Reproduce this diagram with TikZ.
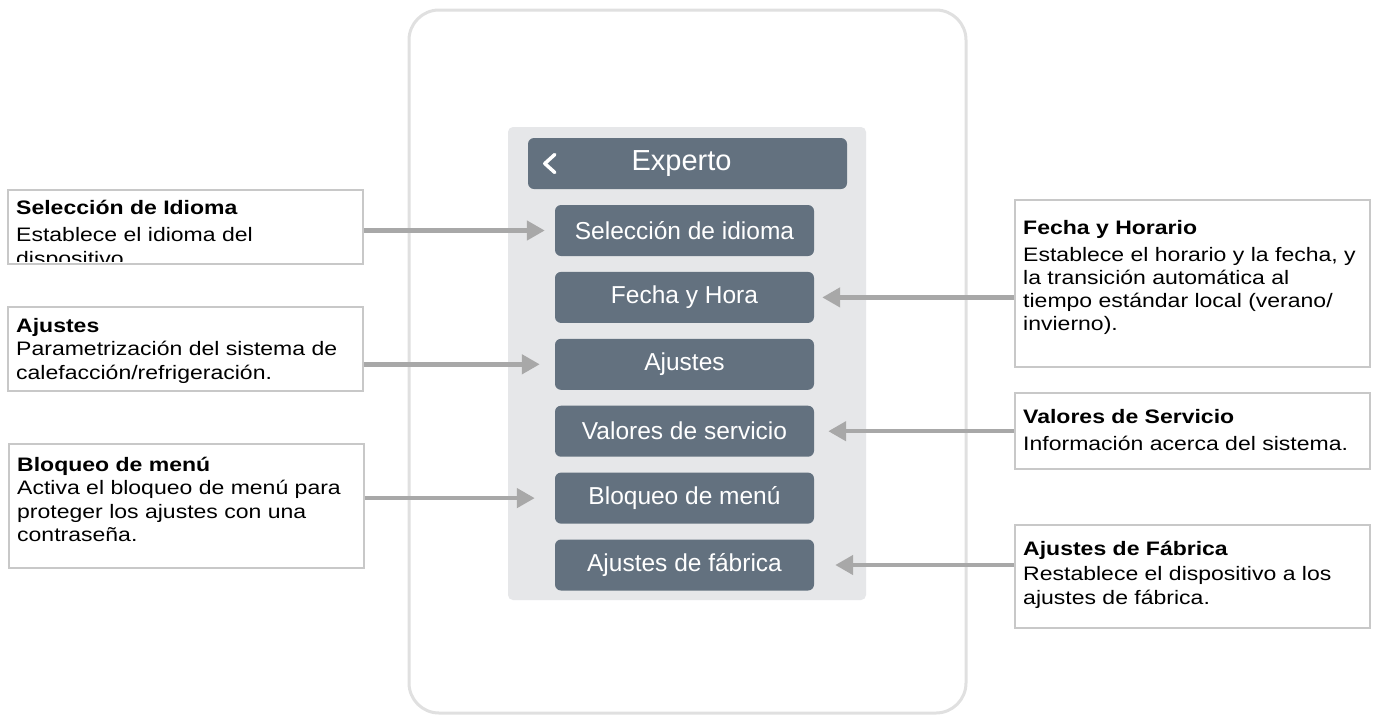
\documentclass[tikz,border=0pt]{standalone}
\usepackage{fontspec}
\setmainfont{Liberation Sans}
\newfontfamily\stretchfont[FakeStretch=1.18]{Liberation Sans}
\definecolor{slate}{RGB}{99,113,127}
\definecolor{panelgray}{RGB}{230,231,233}
\definecolor{arrowgray}{RGB}{168,168,168}
\definecolor{framegray}{RGB}{200,200,200}
\definecolor{shadowgray}{RGB}{224,224,224}
\usetikzlibrary{arrows.meta, positioning}
\tikzset{
  menubtn/.style={rectangle, rounded corners=6pt, fill=slate, text=white, minimum width=259pt, minimum height=51pt, inner sep=0pt, font=\fontsize{24.5}{27}\selectfont},
  infobox/.style={rectangle, draw=framegray, line width=1.5pt, fill=white, minimum width=355pt, minimum height=#1, inner sep=0pt, anchor=north west},
  infotext/.style={anchor=north west, align=left, inner sep=0pt, font=\stretchfont\fontsize{19.5}{23.5}\selectfont},
  pointer/.style={draw=arrowgray, line width=4.5pt, -{Triangle[length=18pt, width=19pt]}},
}

\begin{document}
\begin{tikzpicture}[x=1pt, y=-1pt, node distance=15.5pt]
\useasboundingbox (0,0) rectangle (1381,716);

% device and menu panel
\draw[shadowgray, line width=3pt, rounded corners=30pt, fill=white] (409,10) rectangle (966,713);
\fill[panelgray, rounded corners=5pt] (508,127) rectangle (866,600);

\node[menubtn, minimum width=319pt, font=\fontsize{29}{31}\selectfont] (experto) at (687.5,163.5) {Experto\kern12pt};
\draw[white, line width=3.5pt, line cap=round, line join=round] ([xshift=27pt, yshift=9pt]experto.west) -- ([xshift=17pt]experto.west) -- ([xshift=27pt, yshift=-9pt]experto.west);

\node[menubtn] (idiomabtn) at (684.5,230.5) {Selección de idioma};
\node[menubtn, below=of idiomabtn] (fechabtn) {Fecha y Hora};
\node[menubtn, below=of fechabtn] (ajustesbtn) {Ajustes};
\node[menubtn, below=of ajustesbtn] (serviciobtn) {Valores de servicio};
\node[menubtn, below=of serviciobtn] (bloqueobtn) {Bloqueo de menú};
\node[menubtn, below=of bloqueobtn] (fabricabtn) {Ajustes de fábrica};

% left boxes
\node[infobox=74pt] (idiomabox) at (7,189) {};
\begin{scope}
  \clip ([xshift=1pt, yshift=-1pt]idiomabox.north west) rectangle ([xshift=-1pt, yshift=3pt]idiomabox.south east);
  \node[infotext] (idiomatxt) at ([xshift=9pt, yshift=-8.5pt]idiomabox.north west) {\strut\textbf{Selección de Idioma}\\[4pt]Establece el idioma del\\dispositivo};
\end{scope}

\node[infobox=84pt] (ajustesbox) at (7,306) {};
\node[infotext] (ajustestxt) at ([xshift=9pt, yshift=-9.5pt]ajustesbox.north west) {\strut\textbf{Ajustes}\\Parametrización del sistema de\\calefacción/refrigeración.};

\node[infobox=124pt] (bloqueobox) at (8,443) {};
\node[infotext] (bloqueotxt) at ([xshift=9pt, yshift=-11.5pt]bloqueobox.north west) {\strut\textbf{Bloqueo de menú}\\Activa el bloqueo de menú para\\proteger los ajustes con una\\contraseña.};

% right boxes
\node[infobox=167pt] (fechabox) at (1014,199) {};
\node[infotext, font=\stretchfont\fontsize{19.5}{23}\selectfont] (fechatxt) at ([xshift=9pt, yshift=-19.5pt]fechabox.north west) {\strut\textbf{Fecha y Horario}\\[4pt]Establece el horario y la fecha, y\\la transición automática al\\tiempo estándar local (verano/\\invierno).};

\node[infobox=76pt] (serviciobox) at (1014,392) {};
\node[infotext] (serviciotxt) at ([xshift=9pt, yshift=-14.5pt]serviciobox.north west) {\strut\textbf{Valores de Servicio}\\[4pt]Información acerca del sistema.};

\node[infobox=103pt] (fabricabox) at (1014,524) {};
\node[infotext] (fabricatxt) at ([xshift=9pt, yshift=-14.5pt]fabricabox.north west) {\strut\textbf{Ajustes de Fábrica}\\[2pt]Restablece el dispositivo a los\\ajustes de fábrica.};

% pointers
\draw[pointer] (idiomabox.east |- idiomabtn.west) -- ([xshift=-10pt]idiomabtn.west);
\draw[pointer] (ajustesbox.east |- ajustesbtn.west) -- ([xshift=-15pt]ajustesbtn.west);
\draw[pointer] (bloqueobox.east |- bloqueobtn.west) -- ([xshift=-20pt]bloqueobtn.west);
\draw[pointer] (fechabox.west |- fechabtn.east) -- ([xshift=8pt]fechabtn.east);
\draw[pointer] (serviciobox.west |- serviciobtn.east) -- ([xshift=14pt]serviciobtn.east);
\draw[pointer] (fabricabox.west |- fabricabtn.east) -- ([xshift=21pt]fabricabtn.east);
\end{tikzpicture}
\end{document}
